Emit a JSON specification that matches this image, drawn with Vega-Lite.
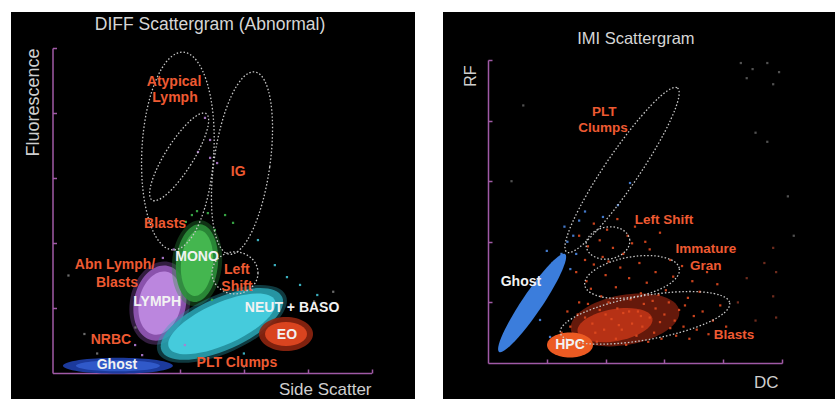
{
 "$schema": "https://vega.github.io/schema/vega-lite/v6.json",
 "background": "white",
 "padding": {"left": 11, "top": 12, "right": 2, "bottom": 0},
 "spacing": 28,
 "config": {
  "view": {"fill": "black", "stroke": null},
  "font": "Liberation Sans",
  "axis": {"domainColor": "#a05aa6", "domainWidth": 1.5, "tickColor": "#a05aa6", "tickWidth": 1.5, "tickSize": -4, "labels": false, "grid": false, "titleColor": "#cfcfcf", "titleFont": "Liberation Sans", "titleFontWeight": "normal"}
 },
 "resolve": {"scale": {"x": "independent", "y": "independent", "color": "independent"}},
 "hconcat": [
  {
   "width": 404, "height": 387,
   "encoding": {
    "x": {"field": "x", "type": "quantitative", "scale": {"domain": [0, 100], "range": [41.5, 360.5], "nice": false, "zero": false},
          "axis": {"values": [20, 40, 60, 80, 100], "offset": -26, "title": "Side Scatter", "titleX": 360, "titleY": 16, "titleAlign": "right", "titleBaseline": "middle", "titleFontSize": 17, "titleAngle": 0}},
    "y": {"field": "y", "type": "quantitative", "scale": {"domain": [0, 100], "range": [361, 36], "nice": false, "zero": false},
          "axis": {"values": [20, 40, 60, 80, 100], "offset": -41.5, "title": "Fluorescence", "titleX": -19.5, "titleY": 36, "titleAngle": 270, "titleAlign": "right", "titleBaseline": "middle", "titleFontSize": 18}}
   },
   "layer": [
    {"data": {"values": [{"x": 33.7, "y": 21.5, "population": "LYMPH"}]},
     "mark": {"type": "point", "shape": "M30,0C30,23.2 16.6,42 0,42C-16.6,42 -30,23.2 -30,0C-30,-23.2 -16.6,-42 0,-42C16.6,-42 30,-23.2 30,0Z", "size": 4, "angle": 12, "filled": true, "color": "#8f52b4", "opacity": 0.35, "strokeWidth": 0}},
    {"data": {"values": [{"x": 33.7, "y": 21.5, "population": "LYMPH"}]},
     "mark": {"type": "point", "shape": "M26,0C26,21 14.4,38 0,38C-14.4,38 -26,21 -26,0C-26,-21 -14.4,-38 0,-38C14.4,-38 26,-21 26,0Z", "size": 4, "angle": 12, "filled": true, "color": "#9a5cc0", "opacity": 0.85, "strokeWidth": 0}},
    {"data": {"values": [{"x": 33.7, "y": 21.5, "population": "LYMPH"}]},
     "mark": {"type": "point", "shape": "M21,0C21,17.7 11.6,32 0,32C-11.6,32 -21,17.7 -21,0C-21,-17.7 -11.6,-32 0,-32C11.6,-32 21,-17.7 21,0Z", "size": 4, "angle": 12, "filled": true, "color": "#bb86de", "opacity": 1, "strokeWidth": 0}},
    {"data": {"values": [{"x": 45.3, "y": 33.8, "population": "MONO"}]},
     "mark": {"type": "point", "shape": "M25,0C25,23.8 13.8,43 0,43C-13.8,43 -25,23.8 -25,0C-25,-23.8 -13.8,-43 0,-43C13.8,-43 25,-23.8 25,0Z", "size": 4, "angle": 5, "filled": true, "color": "#2c8f3a", "opacity": 0.35, "strokeWidth": 0}},
    {"data": {"values": [{"x": 45.3, "y": 33.8, "population": "MONO"}]},
     "mark": {"type": "point", "shape": "M21,0C21,21.5 11.6,39 0,39C-11.6,39 -21,21.5 -21,0C-21,-21.5 -11.6,-39 0,-39C11.6,-39 21,-21.5 21,0Z", "size": 4, "angle": 5, "filled": true, "color": "#2c8f3a", "opacity": 0.9, "strokeWidth": 0}},
    {"data": {"values": [{"x": 45.3, "y": 33.8, "population": "MONO"}]},
     "mark": {"type": "point", "shape": "M16,0C16,18.2 8.8,33 0,33C-8.8,33 -16,18.2 -16,0C-16,-18.2 -8.8,-33 0,-33C8.8,-33 16,-18.2 16,0Z", "size": 4, "angle": 5, "filled": true, "color": "#44b64f", "opacity": 1, "strokeWidth": 0}},
    {"data": {"values": [{"x": 53.1, "y": 15.1, "population": "NEUT + BASO"}]},
     "mark": {"type": "point", "shape": "M70,0C70,16 38.7,29 0,29C-38.7,29 -70,16 -70,0C-70,-16 -38.7,-29 0,-29C38.7,-29 70,-16 70,0Z", "size": 4, "angle": 336, "filled": true, "color": "#2aa4b4", "opacity": 0.35, "strokeWidth": 0}},
    {"data": {"values": [{"x": 53.1, "y": 15.1, "population": "NEUT + BASO"}]},
     "mark": {"type": "point", "shape": "M66,0C66,14.4 36.5,26 0,26C-36.5,26 -66,14.4 -66,0C-66,-14.4 -36.5,-26 0,-26C36.5,-26 66,-14.4 66,0Z", "size": 4, "angle": 336, "filled": true, "color": "#2aa4b4", "opacity": 0.85, "strokeWidth": 0}},
    {"data": {"values": [{"x": 53.1, "y": 15.1, "population": "NEUT + BASO"}]},
     "mark": {"type": "point", "shape": "M58,0C58,11.6 32,21 0,21C-32,21 -58,11.6 -58,0C-58,-11.6 -32,-21 0,-21C32,-21 58,-11.6 58,0Z", "size": 4, "angle": 336, "filled": true, "color": "#45cbdc", "opacity": 1, "strokeWidth": 0}},
    {"data": {"values": [{"x": 73.2, "y": 12.0, "population": "EO"}]},
     "mark": {"type": "point", "shape": "M27,0C27,9.4 14.9,17 0,17C-14.9,17 -27,9.4 -27,0C-27,-9.4 -14.9,-17 0,-17C14.9,-17 27,-9.4 27,0Z", "size": 4, "angle": 0, "filled": true, "color": "#8e2510", "opacity": 0.9, "strokeWidth": 0}},
    {"data": {"values": [{"x": 73.2, "y": 12.0, "population": "EO"}]},
     "mark": {"type": "point", "shape": "M21,0C21,6.6 11.6,12 0,12C-11.6,12 -21,6.6 -21,0C-21,-6.6 -11.6,-12 0,-12C11.6,-12 21,-6.6 21,0Z", "size": 4, "angle": 0, "filled": true, "color": "#d9441f", "opacity": 1, "strokeWidth": 0}},
    {"data": {"values": [{"x": 20.5, "y": 2.2, "population": "Ghost"}]},
     "mark": {"type": "point", "shape": "M55,0C55,4.4 30.4,8 0,8C-30.4,8 -55,4.4 -55,0C-55,-4.4 -30.4,-8 0,-8C30.4,-8 55,-4.4 55,0Z", "size": 4, "angle": 0, "filled": true, "color": "#1c3a9c", "opacity": 1, "strokeWidth": 0}},
    {"data": {"values": [{"x": 20.5, "y": 2.2, "population": "Ghost"}]},
     "mark": {"type": "point", "shape": "M42,0C42,3 23.2,5.5 0,5.5C-23.2,5.5 -42,3 -42,0C-42,-3 -23.2,-5.5 0,-5.5C23.2,-5.5 42,-3 42,0Z", "size": 4, "angle": 0, "filled": true, "color": "#3059c9", "opacity": 1, "strokeWidth": 0}},
    {"data": {"values": [
      {"x": 43.7, "y": 48.6, "pop": "mono"}, {"x": 48.7, "y": 49.2, "pop": "mono"}, {"x": 45.3, "y": 49.8, "pop": "mono"}, {"x": 56.6, "y": 46.2, "pop": "mono"}, {"x": 41.8, "y": 46.5, "pop": "mono"}, {"x": 50.9, "y": 44.0, "pop": "mono"}, {"x": 54.1, "y": 48.6, "pop": "mono"}, {"x": 50.0, "y": 22.5, "pop": "mono"}, {"x": 54.1, "y": 25.5, "pop": "mono"},
      {"x": 45.6, "y": 68.0, "pop": "lymph"}, {"x": 49.4, "y": 66.2, "pop": "lymph"}, {"x": 51.6, "y": 64.6, "pop": "lymph"}, {"x": 49.4, "y": 71.7, "pop": "lymph"}, {"x": 47.8, "y": 78.5, "pop": "lymph"}, {"x": 25.9, "y": 8.6, "pop": "lymph"}, {"x": 28.1, "y": 5.5, "pop": "lymph"}, {"x": 41.5, "y": 8.6, "pop": "lymph"}, {"x": 34.6, "y": 35.4, "pop": "lymph"}, {"x": 38.0, "y": 38.0, "pop": "lymph"},
      {"x": 73.5, "y": 29.5, "pop": "neut"}, {"x": 64.4, "y": 40.9, "pop": "neut"}, {"x": 77.6, "y": 27.1, "pop": "neut"}, {"x": 69.7, "y": 33.2, "pop": "neut"}, {"x": 83.0, "y": 24.0, "pop": "neut"}, {"x": 60.0, "y": 6.0, "pop": "neut"}, {"x": 67.0, "y": 4.0, "pop": "neut"},
      {"x": 10.0, "y": 12.0, "pop": "dim"}, {"x": 14.0, "y": 6.0, "pop": "dim"}, {"x": 26.0, "y": 14.0, "pop": "dim"}, {"x": 60.0, "y": 2.0, "pop": "dim"}, {"x": 82.0, "y": 22.0, "pop": "dim"}, {"x": 88.0, "y": 25.0, "pop": "dim"}, {"x": 5.0, "y": 30.0, "pop": "dim"}
     ]},
     "mark": {"type": "square", "size": 5, "opacity": 0.9},
     "encoding": {"color": {"field": "pop", "type": "nominal", "scale": {"domain": ["mono", "lymph", "neut", "dim"], "range": ["#3cb44a", "#b07ad0", "#40c0d0", "#777777"]}, "legend": null}}},
    {"data": {"values": [{"x": 39.3, "y": 68.3, "gate": "Atypical Lymph"}]},
     "mark": {"type": "point", "shape": "M36,0C36,54.7 19.9,99 0,99C-19.9,99 -36,54.7 -36,0C-36,-54.7 -19.9,-99 0,-99C19.9,-99 36,-54.7 36,0Z", "size": 4, "angle": 3, "filled": false, "color": "#c8c8c8", "opacity": 1, "strokeWidth": 1.3, "strokeDash": [1.5, 2]}},
    {"data": {"values": [{"x": 39.7, "y": 66.5, "gate": "Atypical Lymph inner"}]},
     "mark": {"type": "point", "shape": "M14,0C14,28.2 7.7,51 0,51C-7.7,51 -14,28.2 -14,0C-14,-28.2 -7.7,-51 0,-51C7.7,-51 14,-28.2 14,0Z", "size": 4, "angle": 32, "filled": false, "color": "#c8c8c8", "opacity": 1, "strokeWidth": 1.3, "strokeDash": [1.5, 2]}},
    {"data": {"values": [{"x": 59.4, "y": 64.6, "gate": "IG"}]},
     "mark": {"type": "point", "shape": "M28,0C28,50.8 15.5,92 0,92C-15.5,92 -28,50.8 -28,0C-28,-50.8 -15.5,-92 0,-92C15.5,-92 28,-50.8 28,0Z", "size": 4, "angle": 8, "filled": false, "color": "#c8c8c8", "opacity": 1, "strokeWidth": 1.3, "strokeDash": [1.5, 2]}},
    {"data": {"values": [{"x": 57.2, "y": 30.8, "gate": "Left Shift"}]},
     "mark": {"type": "point", "shape": "M23,0C23,11.6 12.7,21 0,21C-12.7,21 -23,11.6 -23,0C-23,-11.6 -12.7,-21 0,-21C12.7,-21 23,-11.6 23,0Z", "size": 4, "angle": 0, "filled": false, "color": "#c8c8c8", "opacity": 1, "strokeWidth": 1.3, "strokeDash": [1.5, 2]}},
    {"data": {"values": [{"x": 38.1, "y": 89.5, "label": "Atypical"}, {"x": 38.4, "y": 84.6, "label": "Lymph"}, {"x": 58.2, "y": 61.8, "label": "IG"}, {"x": 35.3, "y": 45.8, "label": "Blasts"}, {"x": 19.6, "y": 33.2, "label": "Abn Lymph/"}, {"x": 20.2, "y": 27.7, "label": "Blasts"}, {"x": 57.8, "y": 31.7, "label": "Left"}, {"x": 57.8, "y": 26.5, "label": "Shift"}, {"x": 18.3, "y": 10.2, "label": "NRBC"}, {"x": 57.8, "y": 3.1, "label": "PLT Clumps"}]},
     "mark": {"type": "text", "color": "#ee5a32", "fontSize": 14, "fontWeight": "bold", "align": "center", "baseline": "middle"},
     "encoding": {"text": {"field": "label"}}},
    {"data": {"values": [{"x": 45.3, "y": 35.7, "label": "MONO"}, {"x": 32.8, "y": 21.8, "label": "LYMPH"}, {"x": 75.1, "y": 20.0, "label": "NEUT + BASO"}, {"x": 73.5, "y": 11.7, "label": "EO"}, {"x": 20.2, "y": 2.5, "label": "Ghost"}]},
     "mark": {"type": "text", "color": "#f2f2f2", "fontSize": 14, "fontWeight": "bold", "align": "center", "baseline": "middle"},
     "encoding": {"text": {"field": "label"}}},
    {"data": {"values": [{"x": 49.4, "y": 107.1, "label": "DIFF Scattergram (Abnormal)"}]},
     "mark": {"type": "text", "color": "#d6d6d6", "fontSize": 17.5, "fontWeight": "normal", "align": "center", "baseline": "middle"},
     "encoding": {"text": {"field": "label"}}}
   ]
  },
  {
   "width": 392, "height": 387,
   "encoding": {
    "x": {"field": "x", "type": "quantitative", "scale": {"domain": [0, 100], "range": [45, 339], "nice": false, "zero": false},
          "axis": {"values": [20, 40, 60, 80, 100], "offset": -36, "title": "DC", "titleX": 335, "titleY": 19, "titleAlign": "right", "titleBaseline": "middle", "titleFontSize": 17, "titleAngle": 0}},
    "y": {"field": "y", "type": "quantitative", "scale": {"domain": [0, 100], "range": [351, 48], "nice": false, "zero": false},
          "axis": {"values": [20, 40, 60, 80, 100], "offset": -45, "title": "RF", "titleX": -18, "titleY": 53, "titleAngle": 270, "titleAlign": "right", "titleBaseline": "middle", "titleFontSize": 16}}
   },
   "layer": [
    {"data": {"values": [{"x": 46.6, "y": 14.2, "population": "cloud"}]},
     "mark": {"type": "point", "shape": "M55,0C55,13.8 30.4,25 0,25C-30.4,25 -55,13.8 -55,0C-55,-13.8 -30.4,-25 0,-25C30.4,-25 55,-13.8 55,0Z", "size": 4, "angle": 350, "filled": true, "color": "#b82e14", "opacity": 0.55, "strokeWidth": 0}},
    {"data": {"values": [{"x": 43.2, "y": 12.5, "population": "cloud"}]},
     "mark": {"type": "point", "shape": "M38,0C38,8.8 21,16 0,16C-21,16 -38,8.8 -38,0C-38,-8.8 -21,-16 0,-16C21,-16 38,-8.8 38,0Z", "size": 4, "angle": 350, "filled": true, "color": "#d93c1a", "opacity": 0.7, "strokeWidth": 0}},
    {"data": {"values": [
      {"x": 36, "y": 46, "pop": "cell"}, {"x": 40.5, "y": 44, "pop": "cell"}, {"x": 44, "y": 47.5, "pop": "cell"}, {"x": 47.5, "y": 42, "pop": "cell"}, {"x": 38, "y": 40.5, "pop": "cell"}, {"x": 42.5, "y": 38, "pop": "cell"}, {"x": 50, "y": 45, "pop": "cell"}, {"x": 53.5, "y": 40, "pop": "cell"}, {"x": 34, "y": 38.5, "pop": "cell"}, {"x": 46, "y": 36, "pop": "cell"}, {"x": 55, "y": 37.5, "pop": "cell"}, {"x": 39, "y": 35, "pop": "cell"}, {"x": 58.5, "y": 43, "pop": "cell"}, {"x": 31, "y": 42, "pop": "cell"}, {"x": 49, "y": 39.5, "pop": "cell"},
      {"x": 30, "y": 30, "pop": "cell"}, {"x": 33.5, "y": 27, "pop": "cell"}, {"x": 36, "y": 32.5, "pop": "cell"}, {"x": 40, "y": 29, "pop": "cell"}, {"x": 43.5, "y": 25, "pop": "cell"}, {"x": 45, "y": 31.5, "pop": "cell"}, {"x": 48, "y": 28, "pop": "cell"}, {"x": 51.5, "y": 33, "pop": "cell"}, {"x": 54, "y": 26.5, "pop": "cell"}, {"x": 57, "y": 30, "pop": "cell"}, {"x": 60.5, "y": 24, "pop": "cell"}, {"x": 63, "y": 28.5, "pop": "cell"}, {"x": 66, "y": 32, "pop": "cell"}, {"x": 69.5, "y": 27, "pop": "cell"}, {"x": 72, "y": 23.5, "pop": "cell"}, {"x": 62, "y": 34, "pop": "cell"}, {"x": 35, "y": 24.5, "pop": "cell"}, {"x": 38.5, "y": 22, "pop": "cell"}, {"x": 52, "y": 23, "pop": "cell"}, {"x": 58, "y": 22.5, "pop": "cell"}, {"x": 74.5, "y": 30, "pop": "cell"}, {"x": 78, "y": 26, "pop": "cell"}, {"x": 68, "y": 21.5, "pop": "cell"}, {"x": 33, "y": 34, "pop": "cell"}, {"x": 41, "y": 33.5, "pop": "cell"},
      {"x": 28, "y": 12, "pop": "cell"}, {"x": 30.5, "y": 16, "pop": "cell"}, {"x": 32, "y": 9, "pop": "cell"}, {"x": 34, "y": 19.5, "pop": "cell"}, {"x": 35.5, "y": 13, "pop": "cell"}, {"x": 37, "y": 7, "pop": "cell"}, {"x": 38, "y": 17.5, "pop": "cell"}, {"x": 39.5, "y": 11, "pop": "cell"}, {"x": 41, "y": 20, "pop": "cell"}, {"x": 42, "y": 14.5, "pop": "cell"}, {"x": 43.5, "y": 8, "pop": "cell"}, {"x": 44, "y": 18, "pop": "cell"}, {"x": 45.5, "y": 11, "pop": "cell"}, {"x": 46, "y": 16.5, "pop": "cell"}, {"x": 47, "y": 6, "pop": "cell"}, {"x": 48.5, "y": 21, "pop": "cell"}, {"x": 49, "y": 13, "pop": "cell"}, {"x": 50.5, "y": 9, "pop": "cell"}, {"x": 51, "y": 17, "pop": "cell"}, {"x": 52.5, "y": 12, "pop": "cell"}, {"x": 53, "y": 19.5, "pop": "cell"}, {"x": 54.5, "y": 7, "pop": "cell"}, {"x": 55, "y": 15, "pop": "cell"}, {"x": 56.5, "y": 10, "pop": "cell"}, {"x": 57, "y": 18, "pop": "cell"}, {"x": 58.5, "y": 13.5, "pop": "cell"}, {"x": 59, "y": 8, "pop": "cell"}, {"x": 60, "y": 16, "pop": "cell"}, {"x": 61.5, "y": 20, "pop": "cell"}, {"x": 62, "y": 11.5, "pop": "cell"}, {"x": 63.5, "y": 14, "pop": "cell"}, {"x": 64, "y": 9, "pop": "cell"}, {"x": 65, "y": 17.5, "pop": "cell"}, {"x": 66.5, "y": 12, "pop": "cell"}, {"x": 67, "y": 19, "pop": "cell"}, {"x": 68.5, "y": 8, "pop": "cell"}, {"x": 70, "y": 15.5, "pop": "cell"}, {"x": 71, "y": 11, "pop": "cell"}, {"x": 73, "y": 17, "pop": "cell"}, {"x": 75, "y": 9.5, "pop": "cell"}, {"x": 76.5, "y": 14, "pop": "cell"}, {"x": 79, "y": 19, "pop": "cell"}, {"x": 81, "y": 12, "pop": "cell"}, {"x": 33, "y": 15, "pop": "cell"}, {"x": 36.5, "y": 10, "pop": "cell"}, {"x": 40, "y": 16, "pop": "cell"}, {"x": 44.5, "y": 12.5, "pop": "cell"}, {"x": 48, "y": 17, "pop": "cell"}, {"x": 52, "y": 15.5, "pop": "cell"}, {"x": 56, "y": 20.5, "pop": "cell"}, {"x": 31, "y": 20, "pop": "cell"}, {"x": 27, "y": 17, "pop": "cell"}, {"x": 25, "y": 10, "pop": "cell"},
      {"x": 85, "y": 20, "pop": "faint"}, {"x": 88, "y": 28, "pop": "faint"}, {"x": 91, "y": 14, "pop": "faint"}, {"x": 94, "y": 33, "pop": "faint"}, {"x": 87, "y": 9, "pop": "faint"}, {"x": 97, "y": 38, "pop": "faint"}, {"x": 98, "y": 30, "pop": "faint"}, {"x": 97, "y": 22, "pop": "faint"}, {"x": 98, "y": 15, "pop": "faint"},
      {"x": 22, "y": 33, "pop": "ghost"}, {"x": 25, "y": 36, "pop": "ghost"}, {"x": 20, "y": 37, "pop": "ghost"}, {"x": 27, "y": 40, "pop": "ghost"}, {"x": 24, "y": 30, "pop": "ghost"}, {"x": 29, "y": 42, "pop": "ghost"}, {"x": 31, "y": 47, "pop": "ghost"}, {"x": 26, "y": 45, "pop": "ghost"}, {"x": 18, "y": 28, "pop": "ghost"}, {"x": 16, "y": 24, "pop": "ghost"}, {"x": 28, "y": 31, "pop": "ghost"}, {"x": 30, "y": 36, "pop": "ghost"}, {"x": 17.7, "y": 14.2, "pop": "ghost"}, {"x": 21.1, "y": 8.6, "pop": "ghost"}, {"x": 39.1, "y": 48.2, "pop": "ghost"}, {"x": 44.2, "y": 52.1, "pop": "ghost"}, {"x": 48.3, "y": 59.4, "pop": "ghost"}, {"x": 33, "y": 50, "pop": "ghost"},
      {"x": 86, "y": 99, "pop": "dim"}, {"x": 90, "y": 97, "pop": "dim"}, {"x": 95, "y": 99, "pop": "dim"}, {"x": 99, "y": 96, "pop": "dim"}, {"x": 88, "y": 94, "pop": "dim"}, {"x": 97, "y": 92, "pop": "dim"}, {"x": 91, "y": 76, "pop": "dim"}, {"x": 95, "y": 73, "pop": "dim"}, {"x": 102, "y": 55, "pop": "dim"}, {"x": 104, "y": 42, "pop": "dim"}, {"x": 8, "y": 60, "pop": "dim"}, {"x": 12, "y": 85, "pop": "dim"}
     ]},
     "mark": {"type": "square", "size": 5, "opacity": 0.9},
     "encoding": {"color": {"field": "pop", "type": "nominal", "scale": {"domain": ["cell", "faint", "ghost", "dim"], "range": ["#e04a20", "#7a3020", "#4a86e0", "#5a5a5a"]}, "legend": null}}},
    {"data": {"values": [{"x": 15.0, "y": 19.8, "population": "Ghost"}]},
     "mark": {"type": "point", "shape": "M59,0C59,5.5 32.6,10 0,10C-32.6,10 -59,5.5 -59,0C-59,-5.5 -32.6,-10 0,-10C32.6,-10 59,-5.5 59,0Z", "size": 4, "angle": 304, "filled": true, "color": "#3b7ddc", "opacity": 1, "strokeWidth": 0}},
    {"data": {"values": [{"x": 27.9, "y": 5.9, "population": "HPC"}]},
     "mark": {"type": "point", "shape": "M23,0C23,6.9 12.7,12.5 0,12.5C-12.7,12.5 -23,6.9 -23,0C-23,-6.9 -12.7,-12.5 0,-12.5C12.7,-12.5 23,-6.9 23,0Z", "size": 4, "angle": 0, "filled": true, "color": "#ec5a22", "opacity": 1, "strokeWidth": 0}},
    {"data": {"values": [{"x": 45.6, "y": 63.7, "gate": "PLT Clumps"}]},
     "mark": {"type": "point", "shape": "M99,0C99,9.4 54.7,17 0,17C-54.7,17 -99,9.4 -99,0C-99,-9.4 -54.7,-17 0,-17C54.7,-17 99,-9.4 99,0Z", "size": 4, "angle": 304, "filled": false, "color": "#c8c8c8", "opacity": 1, "strokeWidth": 1.3, "strokeDash": [1.5, 2]}},
    {"data": {"values": [{"x": 40.8, "y": 39.6, "gate": "Left Shift"}]},
     "mark": {"type": "point", "shape": "M22,0C22,8.8 12.2,16 0,16C-12.2,16 -22,8.8 -22,0C-22,-8.8 -12.2,-16 0,-16C12.2,-16 22,-8.8 22,0Z", "size": 4, "angle": 350, "filled": false, "color": "#c8c8c8", "opacity": 1, "strokeWidth": 1.3, "strokeDash": [1.5, 2]}},
    {"data": {"values": [{"x": 49.0, "y": 28.4, "gate": "Immature Gran"}]},
     "mark": {"type": "point", "shape": "M48,0C48,11 26.5,20 0,20C-26.5,20 -48,11 -48,0C-48,-11 -26.5,-20 0,-20C26.5,-20 48,-11 48,0Z", "size": 4, "angle": 350, "filled": false, "color": "#c8c8c8", "opacity": 1, "strokeWidth": 1.3, "strokeDash": [1.5, 2]}},
    {"data": {"values": [{"x": 53.4, "y": 14.9, "gate": "Blasts"}]},
     "mark": {"type": "point", "shape": "M86,0C86,12.2 47.5,22 0,22C-47.5,22 -86,12.2 -86,0C-86,-12.2 -47.5,-22 0,-22C47.5,-22 86,-12.2 86,0Z", "size": 4, "angle": 350, "filled": false, "color": "#c8c8c8", "opacity": 1, "strokeWidth": 1.3, "strokeDash": [1.5, 2]}},
    {"data": {"values": [{"x": 39.5, "y": 82.8, "label": "PLT"}, {"x": 39.1, "y": 77.6, "label": "Clumps"}, {"x": 59.9, "y": 47.2, "label": "Left Shift"}, {"x": 74.1, "y": 37.6, "label": "Immature"}, {"x": 74.1, "y": 32.0, "label": "Gran"}, {"x": 83.7, "y": 9.2, "label": "Blasts"}]},
     "mark": {"type": "text", "color": "#ee5a32", "fontSize": 13.5, "fontWeight": "bold", "align": "center", "baseline": "middle"},
     "encoding": {"text": {"field": "label"}}},
    {"data": {"values": [{"x": 11.2, "y": 26.7, "label": "Ghost"}, {"x": 27.9, "y": 5.9, "label": "HPC"}]},
     "mark": {"type": "text", "color": "#f2f2f2", "fontSize": 14, "fontWeight": "bold", "align": "center", "baseline": "middle"},
     "encoding": {"text": {"field": "label"}}},
    {"data": {"values": [{"x": 50.3, "y": 106.9, "label": "IMI Scattergram"}]},
     "mark": {"type": "text", "color": "#d6d6d6", "fontSize": 16.5, "fontWeight": "normal", "align": "center", "baseline": "middle"},
     "encoding": {"text": {"field": "label"}}}
   ]
  }
 ]
}
